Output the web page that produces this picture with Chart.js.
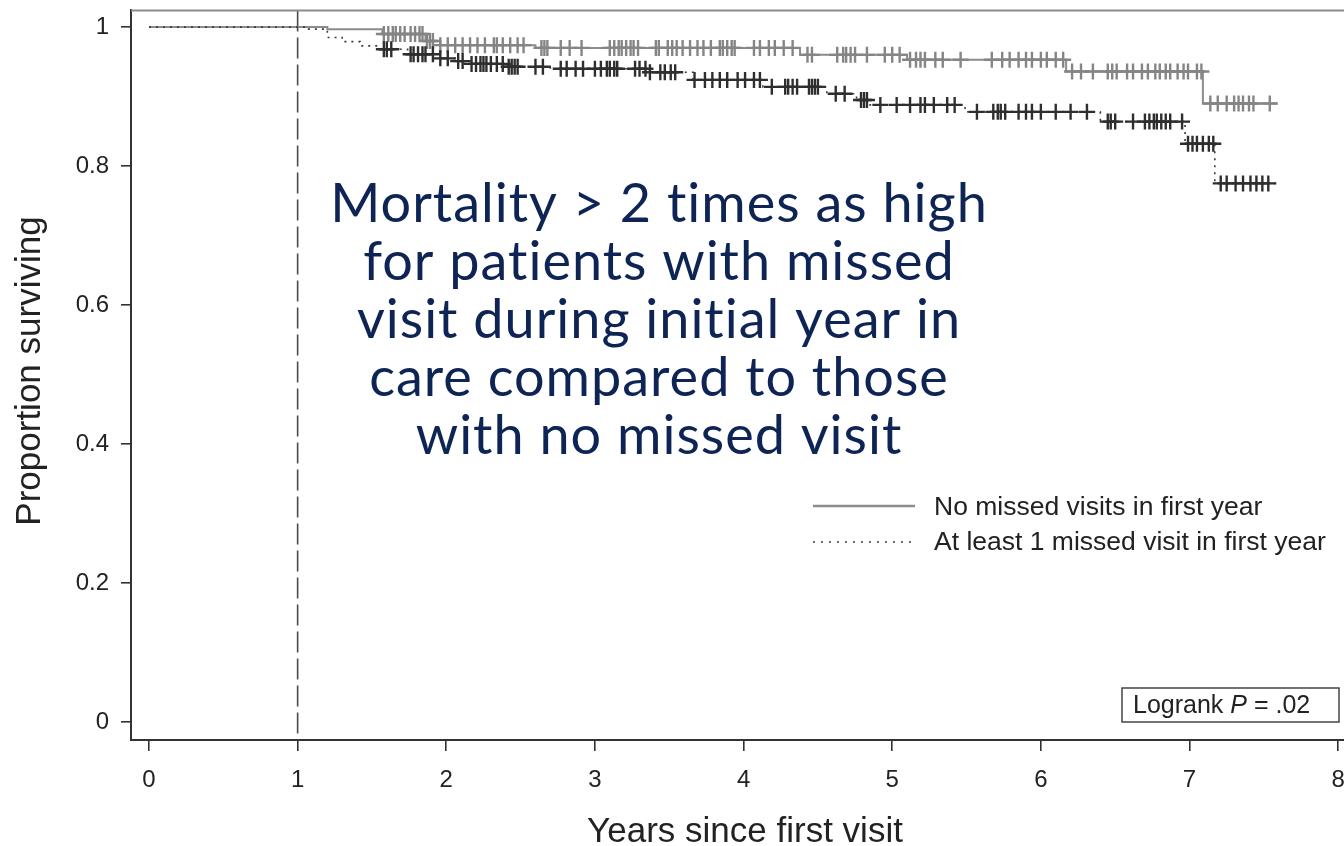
<!DOCTYPE html>
<html>
<head>
<meta charset="utf-8">
<title>Survival by missed visits in first year</title>
<script src="https://cdn.jsdelivr.net/npm/chart.js@4.4.1/dist/chart.umd.min.js"></script>
<style>
  html, body { margin: 0; padding: 0; background: #ffffff; overflow: hidden; }
  #wrap { position: relative; width: 1344px; height: 846px; overflow: hidden; }
  #wrap canvas { position: absolute; left: 0; top: 0; }
</style>
</head>
<body>
<div id="wrap"><canvas id="km" width="1380" height="846"></canvas></div>
<script>
// ---- axis ticks ----
const xTicks = [0, 1, 2, 3, 4, 5, 6, 7, 8];
const yTicks = [0, 0.2, 0.4, 0.6, 0.8, 1];
const yTickLabels = ['0', '0.2', '0.4', '0.6', '0.8', '1'];

// ---- group names ----
const seriesNames = ['No missed visits in first year', 'At least 1 missed visit in first year'];

// ---- Kaplan-Meier estimates: time (years) at which survival changes, and new survival ----
const noMissTimes = [0, 1.2, 1.57, 1.86, 1.96, 2.6, 4.38, 5.1, 6.17, 7.09, 7.59];
const noMissSurv  = [1, 0.997, 0.99, 0.98, 0.974, 0.97, 0.96, 0.953, 0.936, 0.89, 0.89];

const missTimes = [0, 1.05, 1.2, 1.3, 1.42, 1.53, 1.74, 1.95, 2.07, 2.17, 2.4, 2.7, 3.35, 3.66,
                   4.13, 4.56, 4.76, 4.85, 5.49, 6.4, 6.97, 7.17, 7.61];
const missSurv  = [1, 0.997, 0.985, 0.979, 0.973, 0.968, 0.961, 0.955, 0.951, 0.947, 0.943, 0.94, 0.935, 0.924,
                   0.914, 0.904, 0.895, 0.888, 0.878, 0.864, 0.832, 0.775, 0.775];

// ---- censoring times (years) ----
const noMissCensored = [
  1.58, 1.61, 1.64, 1.66, 1.69, 1.72, 1.76, 1.79, 1.82, 1.84, 1.87, 1.89, 1.91,
  1.96, 2.01, 2.06, 2.11, 2.16, 2.21, 2.26, 2.32, 2.34, 2.38, 2.43, 2.48, 2.52,
  2.64, 2.66, 2.68, 2.77, 2.83, 2.91,
  3.10, 3.13, 3.16, 3.18, 3.21, 3.24, 3.26, 3.29,
  3.41, 3.43, 3.49, 3.52, 3.55, 3.59, 3.64, 3.69, 3.73, 3.78, 3.84, 3.86, 3.89, 3.92, 3.94,
  4.07, 4.11, 4.17, 4.21, 4.27, 4.33,
  4.43, 4.46, 4.63, 4.67, 4.69, 4.72, 4.75, 4.83, 4.95, 5.00, 5.05,
  5.12, 5.16, 5.19, 5.22, 5.29, 5.34, 5.46, 5.67, 5.74, 5.79, 5.85, 5.90, 5.94, 6.00, 6.04, 6.10, 6.15,
  6.21, 6.27, 6.35, 6.45, 6.48, 6.51, 6.58, 6.62, 6.68, 6.72, 6.77, 6.80, 6.84, 6.87, 6.92, 6.96, 6.99, 7.05, 7.08,
  7.14, 7.19, 7.25, 7.30, 7.33, 7.36, 7.40, 7.43, 7.54
];
const missCensored = [
  1.58, 1.60, 1.63,
  1.76, 1.78, 1.81, 1.84, 1.86, 1.91,
  1.96, 2.01, 2.08, 2.11,
  2.17, 2.20, 2.23, 2.25, 2.27, 2.30, 2.34, 2.38,
  2.42, 2.44, 2.46, 2.48, 2.60, 2.65,
  2.77, 2.81, 2.87, 2.92, 3.00, 3.04, 3.08, 3.10, 3.13, 3.15, 3.27, 3.30, 3.34,
  3.37, 3.44, 3.47, 3.51, 3.54,
  3.67, 3.74, 3.79, 3.84, 3.89, 3.96, 4.01, 4.07, 4.11,
  4.19, 4.28, 4.30, 4.33, 4.36, 4.44, 4.46, 4.48, 4.50,
  4.62, 4.68, 4.79, 4.81, 4.83,
  4.92, 5.03, 5.12, 5.19, 5.22, 5.28, 5.37, 5.42,
  5.57, 5.68, 5.71, 5.73, 5.76, 5.85, 5.90, 5.94, 6.00, 6.10, 6.20, 6.31,
  6.45, 6.47, 6.50, 6.62, 6.70, 6.73, 6.76, 6.78, 6.81, 6.84, 6.87, 6.95,
  6.99, 7.02, 7.05, 7.09, 7.13, 7.16,
  7.21, 7.25, 7.31, 7.36, 7.41, 7.45, 7.49, 7.53
];

// ---- reference line and annotations ----
const landmarkYear = 1;
const noteLines = [
  'Mortality > 2 times as high',
  'for patients with missed',
  'visit during initial year in',
  'care compared to those',
  'with no missed visit'
];
const logrankParts = ['Logrank ', 'P', ' = .02'];
const xTitle = 'Years since first visit';
const yTitle = 'Proportion surviving';

// ---- helpers ----
const axisFont = '"Liberation Sans", Arial, Helvetica, sans-serif';

function curvePoints(times, surv) {
  return times.map((t, i) => ({ x: t, y: surv[i] }));
}
// survival in effect at time t (right-continuous step function)
function survivalAt(times, surv, t) {
  let s = surv[0];
  for (let i = 0; i < times.length; i++) {
    if (times[i] <= t) s = surv[i];
  }
  return s;
}
function censorPoints(censored, times, surv) {
  return censored.map(t => ({ x: t, y: survivalAt(times, surv, t) }));
}

const greyLine = '#8c8c8c';
const greyMark = '#858585';
const darkLine = '#3a3a3a';
const darkMark = '#2e2e2e';

// ---- extra drawing: frame top, landmark line, annotation, legend, test box ----
const decorations = {
  id: 'decorations',
  beforeDatasetsDraw(chart) {
    const { ctx, chartArea, scales } = chart;
    const x = scales.x.getPixelForValue(landmarkYear);
    ctx.save();
    ctx.strokeStyle = '#4a4a4a';
    ctx.lineWidth = 1.6;
    ctx.setLineDash([21, 6]);
    ctx.beginPath();
    ctx.moveTo(x, chartArea.top);
    ctx.lineTo(x, chartArea.bottom);
    ctx.stroke();
    ctx.restore();
  },
  afterDraw(chart) {
    const { ctx, chartArea } = chart;
    ctx.save();
    // top frame line
    ctx.strokeStyle = '#8c8c8c';
    ctx.lineWidth = 2;
    ctx.beginPath();
    ctx.moveTo(chartArea.left, chartArea.top);
    ctx.lineTo(chart.width, chartArea.top);
    ctx.stroke();

    // axis titles
    ctx.fillStyle = '#222222';
    ctx.font = '35px ' + axisFont;
    ctx.textAlign = 'center';
    ctx.textBaseline = 'middle';
    ctx.fillText(xTitle, 745, 832);
    ctx.save();
    ctx.translate(30, 371);
    ctx.rotate(-Math.PI / 2);
    ctx.fillText(yTitle, 0, 0);
    ctx.restore();

    // annotation
    ctx.fillStyle = '#0d2454';
    ctx.font = '54px Lato, "Open Sans", sans-serif';
    ctx.letterSpacing = '1px';
    ctx.textAlign = 'center';
    ctx.textBaseline = 'middle';
    noteLines.forEach((line, i) => ctx.fillText(line, 659, 205 + i * 58));
    ctx.letterSpacing = '0px';

    // legend
    ctx.lineWidth = 2.5;
    ctx.strokeStyle = greyLine;
    ctx.setLineDash([]);
    ctx.beginPath();
    ctx.moveTo(813, 506); ctx.lineTo(915, 506);
    ctx.stroke();
    ctx.lineWidth = 1.6;
    ctx.strokeStyle = darkLine;
    ctx.setLineDash([2, 6]);
    ctx.beginPath();
    ctx.moveTo(813, 542); ctx.lineTo(915, 542);
    ctx.stroke();
    ctx.setLineDash([]);
    ctx.fillStyle = '#222222';
    ctx.font = '26.5px ' + axisFont;
    ctx.textAlign = 'left';
    ctx.textBaseline = 'middle';
    ctx.fillText(seriesNames[0], 934, 508);
    ctx.fillText(seriesNames[1], 934, 543);

    // log-rank box
    ctx.strokeStyle = '#444444';
    ctx.lineWidth = 1.5;
    ctx.strokeRect(1122, 688, 217, 34);
    let tx = 1133;
    const ty = 706;
    logrankParts.forEach((part, i) => {
      ctx.font = (i === 1 ? 'italic ' : '') + '25px ' + axisFont;
      ctx.fillText(part, tx, ty);
      tx += ctx.measureText(part).width;
    });
    ctx.restore();
  }
};

new Chart(document.getElementById('km'), {
  type: 'scatter',
  data: {
    datasets: [
      {
        label: seriesNames[0],
        type: 'line',
        data: curvePoints(noMissTimes, noMissSurv),
        stepped: 'before',
        borderColor: greyLine,
        borderWidth: 2,
        pointRadius: 0,
        fill: false,
        order: 4
      },
      {
        label: seriesNames[1],
        type: 'line',
        data: curvePoints(missTimes, missSurv),
        stepped: 'before',
        borderColor: darkLine,
        borderWidth: 1.6,
        borderDash: [2, 5],
        pointRadius: 0,
        fill: false,
        order: 3
      },
      {
        label: seriesNames[0] + ' (censored)',
        data: censorPoints(noMissCensored, noMissTimes, noMissSurv),
        showLine: false,
        pointStyle: 'cross',
        pointRadius: 8,
        pointBorderWidth: 2.4,
        pointBorderColor: greyMark,
        pointBackgroundColor: greyMark,
        order: 2
      },
      {
        label: seriesNames[1] + ' (censored)',
        data: censorPoints(missCensored, missTimes, missSurv),
        showLine: false,
        pointStyle: 'cross',
        pointRadius: 8,
        pointBorderWidth: 2.4,
        pointBorderColor: darkMark,
        pointBackgroundColor: darkMark,
        order: 1
      }
    ]
  },
  options: {
    responsive: false,
    animation: false,
    events: [],
    layout: { padding: { top: 8, right: 24, left: 0, bottom: 0 } },
    plugins: { legend: { display: false }, tooltip: { enabled: false }, title: { display: false } },
    scales: {
      x: {
        type: 'linear',
        min: -0.121,
        max: 8.12,
        afterBuildTicks: s => { s.ticks = xTicks.map(v => ({ value: v })); },
        afterFit: s => { s.height = 106; s.paddingLeft = 0; s.paddingRight = 0; },
        grid: { drawOnChartArea: false, drawTicks: true, tickLength: 11, color: '#333333', lineWidth: 1.6 },
        border: { display: true, color: '#333333', width: 2 },
        ticks: {
          autoSkip: false, maxRotation: 0, padding: 15, color: '#222222',
          font: { family: axisFont, size: 24 },
          callback: v => String(v)
        }
      },
      y: {
        type: 'linear',
        min: -0.026,
        max: 1.024,
        afterBuildTicks: s => { s.ticks = yTicks.map(v => ({ value: v })); },
        afterFit: s => { s.width = 131; s.paddingTop = 0; s.paddingBottom = 0; },
        grid: { drawOnChartArea: false, drawTicks: true, tickLength: 10, color: '#333333', lineWidth: 1.6 },
        border: { display: true, color: '#333333', width: 2 },
        ticks: {
          autoSkip: false, padding: 12, color: '#222222',
          font: { family: axisFont, size: 24 },
          callback: v => yTickLabels[yTicks.indexOf(v)]
        }
      }
    }
  },
  plugins: [decorations]
});
</script>
</body>
</html>
